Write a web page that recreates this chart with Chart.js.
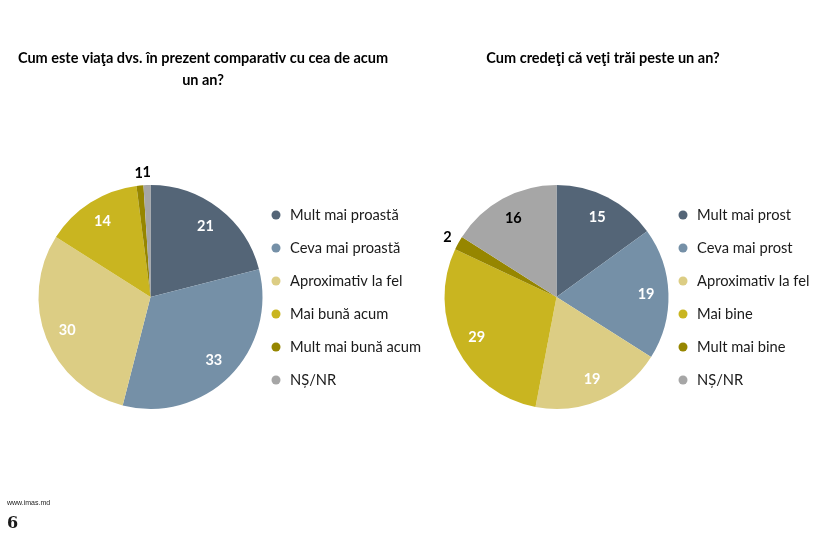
<!DOCTYPE html>
<html>
<head>
<meta charset="utf-8">
<script src="https://cdn.jsdelivr.net/npm/chart.js@4"></script>
<style>
  html,body{margin:0;padding:0;background:#fff;width:832px;height:542px;overflow:hidden;}
  canvas{position:absolute;left:0;top:0;}
  #site{position:absolute;left:7px;top:499px;font:7px "Liberation Sans",Arial,sans-serif;color:#222;}
  #page{position:absolute;left:7px;top:513px;font:bold 16px "DejaVu Serif",serif;color:#1a1a1a;}
</style>
</head>
<body>
<canvas id="c1" width="832" height="542"></canvas>
<canvas id="c2" width="832" height="542"></canvas>
<div id="site">www.imas.md</div>
<div id="page">6</div>
<script>
const leftTitle = ["Cum este viaţa dvs. în prezent comparativ cu cea de acum", "un an?"];
const leftCategories = ["Mult mai proastă", "Ceva mai proastă", "Aproximativ la fel", "Mai bună acum", "Mult mai bună acum", "NȘ/NR"];
const leftValues = [21, 33, 30, 14, 1, 1];

const rightTitle = ["Cum credeţi că veţi trăi peste un an?"];
const rightCategories = ["Mult mai prost", "Ceva mai prost", "Aproximativ la fel", "Mai bine", "Mult mai bine", "NȘ/NR"];
const rightValues = [15, 19, 19, 29, 2, 16];

const sliceColors = ["#546577", "#7590a7", "#dccd84", "#c9b520", "#968600", "#a6a6a6"];
const labelColors = ["#ffffff", "#ffffff", "#ffffff", "#ffffff", "#000000", "#000000"];

const FONT = "Lato, 'Open Sans', sans-serif";

const extras = {
  id: 'pieExtras',
  afterDatasetsDraw(chart, args, opts) {
    const ctx = chart.ctx;
    const ds = chart.data.datasets[0];
    const meta = chart.getDatasetMeta(0);
    ctx.save();
    // value labels
    ctx.textAlign = 'center';
    ctx.textBaseline = 'middle';
    ctx.font = 'bold 14.5px ' + FONT;
    meta.data.forEach((arc, i) => {
      const p = arc.getProps(['x', 'y', 'startAngle', 'endAngle', 'outerRadius'], true);
      const mid = (p.startAngle + p.endAngle) / 2;
      const v = ds.data[i];
      const outside = v < 5;
      const r = outside ? p.outerRadius * 1.11 : p.outerRadius * 0.8;
      ctx.fillStyle = outside ? '#000000' : labelColors[i];
      ctx.fillText(String(v), p.x + Math.cos(mid) * r, p.y + Math.sin(mid) * r);
    });
    // legend
    ctx.textAlign = 'left';
    ctx.font = '14.7px ' + FONT;
    chart.data.labels.forEach((lab, i) => {
      const y = opts.legendY + i * opts.legendStep;
      ctx.fillStyle = ds.backgroundColor[i];
      ctx.beginPath();
      ctx.arc(opts.legendX, y, 4.5, 0, Math.PI * 2);
      ctx.fill();
      ctx.fillStyle = '#1a1a1a';
      ctx.fillText(lab, opts.legendX + 14, y);
    });
    // title
    ctx.textAlign = 'center';
    ctx.font = 'bold 14.5px ' + FONT;
    ctx.fillStyle = '#000000';
    opts.title.forEach((t, i) => ctx.fillText(t, opts.titleX, opts.titleY + i * 22));
    ctx.restore();
  }
};

function makePie(id, labels, values, pad, extraOpts) {
  return new Chart(document.getElementById(id), {
    type: 'pie',
    data: {
      labels: labels,
      datasets: [{ data: values, backgroundColor: sliceColors, borderWidth: 0 }]
    },
    options: {
      responsive: false,
      animation: false,
      events: [],
      layout: { padding: pad },
      plugins: {
        legend: { display: false },
        tooltip: { enabled: false },
        title: { display: false },
        pieExtras: extraOpts
      }
    },
    plugins: [extras]
  });
}

makePie('c1', leftCategories, leftValues,
  { left: 38, right: 569, top: 185, bottom: 133 },
  { legendX: 276, legendY: 215, legendStep: 33, title: leftTitle, titleX: 203, titleY: 58 });

makePie('c2', rightCategories, rightValues,
  { left: 444, right: 163, top: 185, bottom: 133 },
  { legendX: 683, legendY: 215, legendStep: 33, title: rightTitle, titleX: 603, titleY: 58 });
</script>
</body>
</html>
